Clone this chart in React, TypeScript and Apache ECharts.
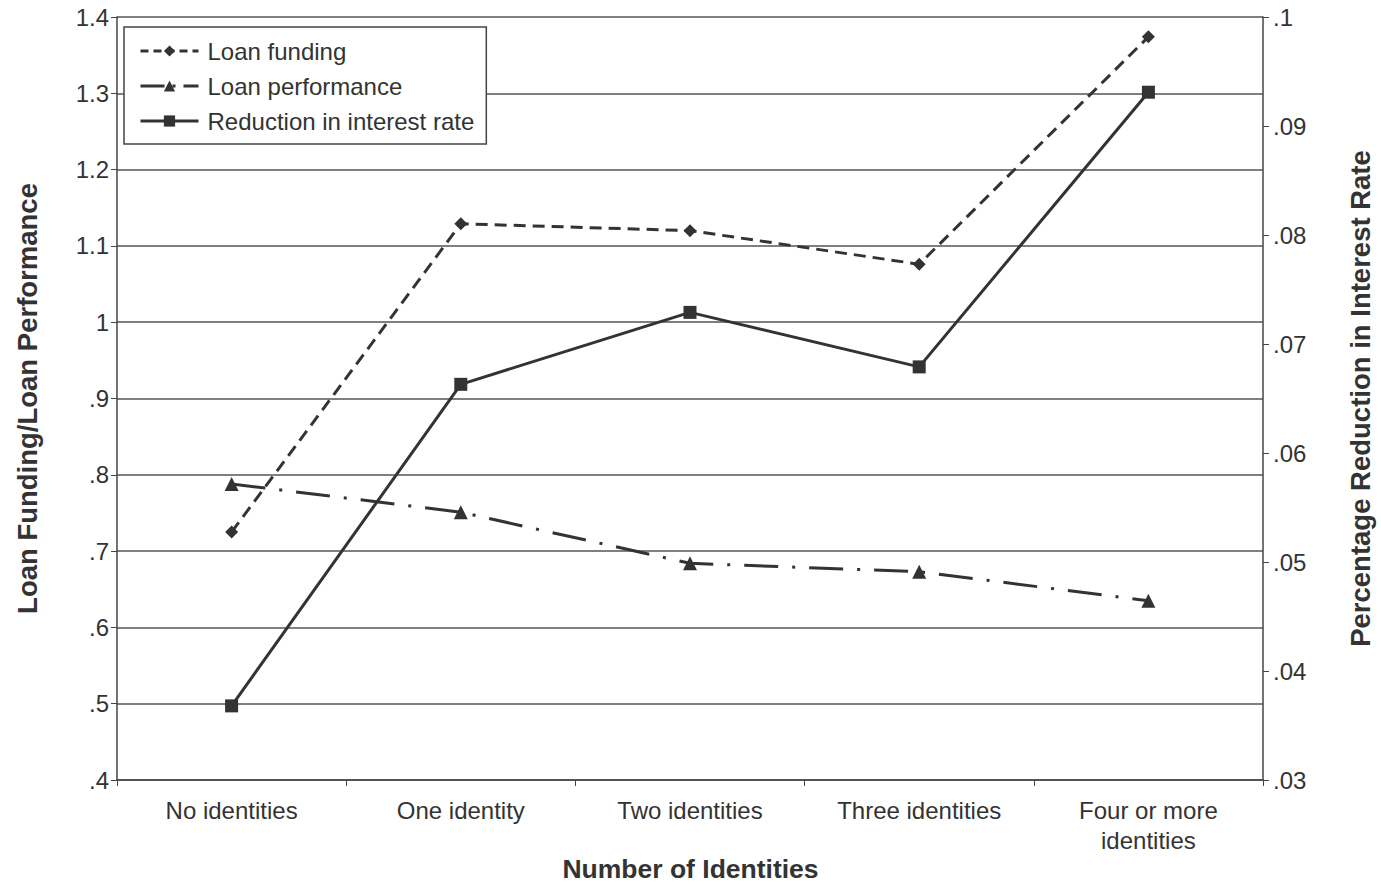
import React, { useEffect, useRef } from "react";
import * as echarts from "echarts";

const categories = ["No identities", "One identity", "Two identities", "Three identities", "Four or more\nidentities"];
const loanFunding = [0.725, 1.129, 1.12, 1.076, 1.374];
const loanPerformance = [0.788, 0.751, 0.684, 0.673, 0.635];
const reductionInterest = [0.0368, 0.0663, 0.0729, 0.0679, 0.0931];
const seriesNames = ["Loan funding", "Loan performance", "Reduction in interest rate"];
const xTitle = "Number of Identities";

const fmt = (v: number) => {
  let s = parseFloat(v.toFixed(3)).toString();
  if (s.startsWith("0.")) s = s.slice(1);
  return s;
};

const FONT = "Liberation Sans, Arial, sans-serif";
const INK = "#333";
const dashFunding = [12, 7];
const dashPerf = [34, 14, 3, 14];

export default function App() {
  const ref = useRef<HTMLDivElement>(null);
  useEffect(() => {
    const chart = echarts.init(ref.current!, null, { renderer: "svg" });
    chart.setOption({
      animation: false,
      backgroundColor: "#fff",
      textStyle: { fontFamily: FONT },
      grid: { left: 117, right: 118, top: 17, bottom: 104, containLabel: false, outerBoundsMode: "none" },
      title: {
        text: xTitle,
        left: "center",
        top: 855,
        padding: 0,
        textStyle: { fontSize: 26.5, fontWeight: "bold", color: INK, fontFamily: FONT, lineHeight: 27 },
      },
      legend: {
        orient: "vertical",
        left: 124,
        top: 27,
        padding: [12, 12, 11, 15],
        itemGap: 11,
        itemWidth: 58,
        itemHeight: 14,
        borderColor: "#444",
        borderWidth: 1.5,
        backgroundColor: "#fff",
        textStyle: { fontSize: 24, color: INK, fontFamily: FONT, padding: [0, 0, 0, 4] },
        data: [
          { name: seriesNames[0], lineStyle: { width: 3, type: [8, 5] } },
          { name: seriesNames[1], lineStyle: { width: 3, type: [24, 8, 3, 8] } },
          { name: seriesNames[2], lineStyle: { width: 3 } },
        ],
      },
      xAxis: {
        type: "category",
        data: categories,
        boundaryGap: true,
        axisLine: { show: true, lineStyle: { color: "#444", width: 1.5 } },
        axisTick: { show: true, alignWithLabel: false, length: 6, lineStyle: { color: "#444" } },
        axisLabel: { fontSize: 24, color: INK, margin: 15, lineHeight: 30, fontFamily: FONT },
      },
      yAxis: [
        {
          type: "value",
          min: 0.4,
          max: 1.4,
          interval: 0.1,
          position: "left",
          axisLine: { show: true, lineStyle: { color: "#444", width: 1.5 } },
          axisTick: { show: true, length: 6, inside: false, lineStyle: { color: "#444" } },
          axisLabel: { fontSize: 24, color: INK, margin: 8, formatter: fmt, fontFamily: FONT },
          splitLine: { show: true, lineStyle: { color: "#555", width: 1.5 } },
          name: "Loan Funding/Loan Performance",
          nameLocation: "middle",
          nameGap: 76,
          nameRotate: 90,
          nameTextStyle: { fontSize: 27.5, fontWeight: "bold", color: INK, fontFamily: FONT },
        },
        {
          type: "value",
          min: 0.03,
          max: 0.1,
          interval: 0.01,
          position: "right",
          axisLine: { show: true, lineStyle: { color: "#444", width: 1.5 } },
          axisTick: { show: true, length: 6, lineStyle: { color: "#444" } },
          axisLabel: { fontSize: 24, color: INK, margin: 10, formatter: fmt, fontFamily: FONT },
          splitLine: { show: false },
          name: "Percentage Reduction in Interest Rate",
          nameLocation: "middle",
          nameGap: 83,
          nameRotate: 90,
          nameTextStyle: { fontSize: 27.5, fontWeight: "bold", color: INK, fontFamily: FONT },
        },
      ],
      series: [
        {
          name: seriesNames[0],
          type: "line",
          yAxisIndex: 0,
          data: loanFunding,
          symbol: "diamond",
          symbolSize: 13,
          itemStyle: { color: INK },
          lineStyle: { color: INK, width: 3, type: dashFunding },
        },
        {
          name: seriesNames[1],
          type: "line",
          yAxisIndex: 0,
          data: loanPerformance,
          symbol: "triangle",
          symbolSize: 14,
          itemStyle: { color: INK },
          lineStyle: { color: INK, width: 3, type: dashPerf },
        },
        {
          name: seriesNames[2],
          type: "line",
          yAxisIndex: 1,
          data: reductionInterest,
          symbol: "rect",
          symbolSize: 13,
          itemStyle: { color: INK },
          lineStyle: { color: INK, width: 3 },
        },
      ],
    });
    return () => chart.dispose();
  }, []);
  return <div ref={ref} style={{ position: "absolute", left: 0, top: 0, width: 1381, height: 884 }} />;
}
